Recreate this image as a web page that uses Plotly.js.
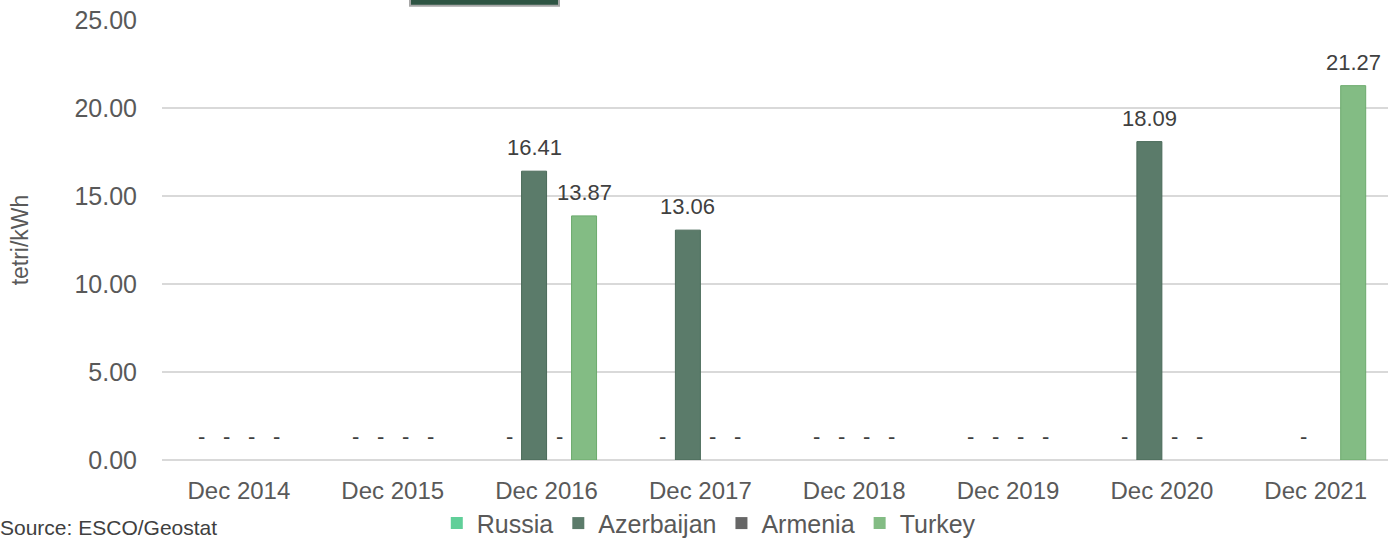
<!DOCTYPE html>
<html>
<head>
<meta charset="utf-8">
<script src="https://cdn.plot.ly/plotly-3.0.1.min.js"></script>
<style>html,body{margin:0;padding:0;background:#fff;}#chart{width:1388px;height:538px;}</style>
</head>
<body>
<div id="chart"></div>
<script>
const categories = ['Dec 2014','Dec 2015','Dec 2016','Dec 2017','Dec 2018','Dec 2019','Dec 2020','Dec 2021'];
const seriesNames = ['Russia','Azerbaijan','Armenia','Turkey'];
const russia     = [0, 0, 0,     0,     0, 0, 0,     null];
const azerbaijan = [0, 0, 16.41, 13.06, 0, 0, 18.09, 0];
const armenia    = [0, 0, 0,     0,     0, 0, 0,     null];
const turkey     = [0, 0, 13.87, 0,     0, 0, 0,     21.27];
const yTicks = [0, 5, 10, 15, 20, 25];

const seriesValues = [russia, azerbaijan, armenia, turkey];
const fills = ['#60cf99', '#5b7b6a', '#666666', '#83bc84'];
const borders = ['#4dbb86', '#4a6a59', '#555555', '#6cab6d'];

const font = 'Liberation Sans, Arial, sans-serif';

const traces = seriesValues.map((vals, i) => ({
  type: 'bar',
  name: seriesNames[i],
  x: categories,
  y: vals,
  marker: {color: fills[i], line: {color: borders[i], width: vals.map(v => (v ? 1 : 0))}},
  hoverinfo: 'none'
}));

const annotations = [];
seriesValues.forEach((vals, i) => {
  vals.forEach((v, j) => {
    if (v === null) return;
    annotations.push({
      x: categories[j], y: v, xref: 'x', yref: 'y',
      xshift: (i - 1.5) * 25, yshift: 9,
      yanchor: 'bottom', xanchor: 'center',
      text: v === 0 ? '-' : v.toFixed(2),
      showarrow: false,
      font: {family: font, size: 22, color: '#404040'}
    });
  });
});
annotations.push({
  xref: 'paper', yref: 'paper', x: -0.1338, y: -0.1545,
  xanchor: 'left', yanchor: 'middle', showarrow: false,
  text: 'Source: ESCO/Geostat',
  font: {family: 'Liberation Sans Narrow, Arial Narrow, sans-serif', size: 21, color: '#404040'}
});

const layout = {
  width: 1388, height: 538,
  margin: {l: 162, r: 0, t: 20, b: 78, pad: 0},
  paper_bgcolor: '#ffffff', plot_bgcolor: '#ffffff',
  barmode: 'group', bargap: 0.35, bargroupgap: 0,
  showlegend: true,
  legend: {
    orientation: 'h', xref: 'paper', yref: 'container',
    x: 0.446, xanchor: 'center', y: 0.07, yanchor: 'top',
    bgcolor: 'rgba(0,0,0,0)',
    font: {family: font, size: 25, color: '#595959'},
    itemwidth: 30, traceorder: 'normal'
  },
  xaxis: {
    type: 'category', range: [-0.5, 7.47],
    showgrid: false, zeroline: false, showline: false,
    ticks: '', ticklabelstandoff: 14,
    tickfont: {family: font, size: 24, color: '#595959'},
    fixedrange: true, automargin: false
  },
  yaxis: {
    range: [0, 25], tickvals: yTicks, tickformat: '.2f',
    showgrid: true, gridcolor: '#d9d9d9', gridwidth: 1.5,
    zeroline: true, zerolinecolor: '#d9d9d9', zerolinewidth: 1.5,
    showline: false, ticks: '', ticklabelstandoff: 24,
    tickfont: {family: font, size: 25, color: '#595959'},
    title: {text: 'tetri/kWh', font: {family: font, size: 23, color: '#595959'}, standoff: 39},
    fixedrange: true, automargin: false
  },
  shapes: [{
    type: 'rect', xref: 'paper', yref: 'paper',
    x0: 0.2023, x1: 0.3238, y0: 1.0325, y1: 1.2,
    fillcolor: '#2e5443', line: {color: '#a6a6a6', width: 2}
  }],
  annotations: annotations
};

Plotly.newPlot('chart', traces, layout, {displayModeBar: false, staticPlot: true});
</script>
</body>
</html>
